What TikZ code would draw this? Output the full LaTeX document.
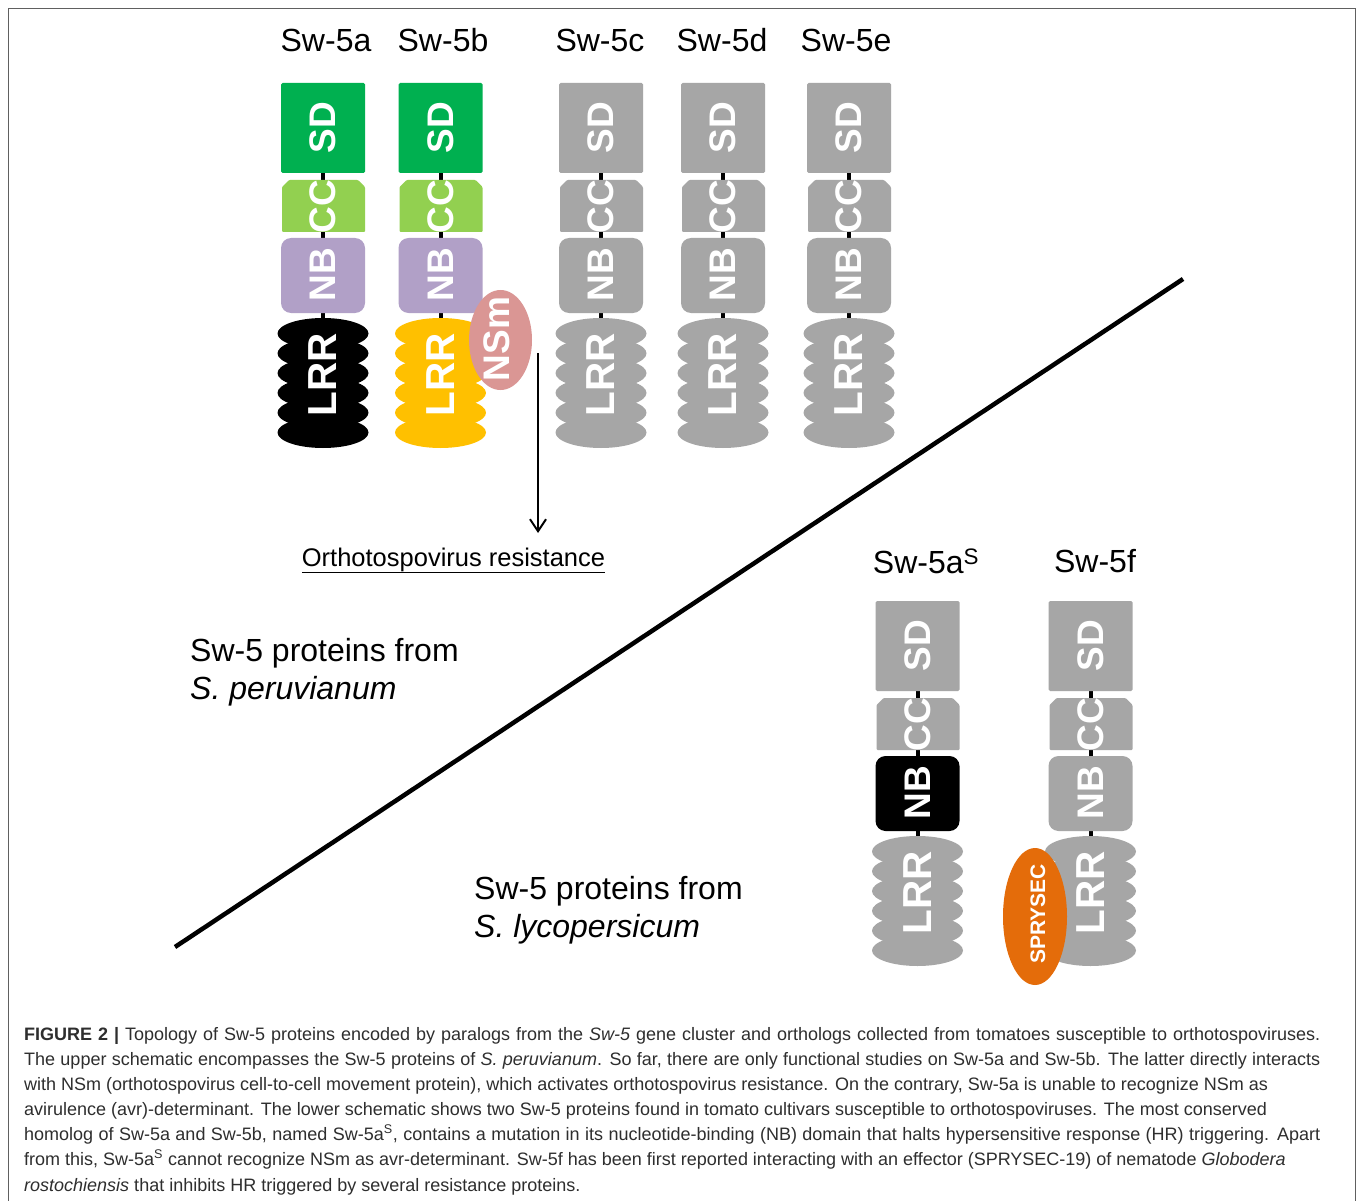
\documentclass[tikz,border=0pt]{standalone}
\usepackage{fontspec}
\setmainfont{Liberation Sans}
\usetikzlibrary{arrows.meta}
\definecolor{sdgreen}{HTML}{00B050}
\definecolor{ccgreen}{HTML}{92D050}
\definecolor{nbpurple}{HTML}{B1A0C7}
\definecolor{lrryellow}{HTML}{FFC000}
\definecolor{nspink}{HTML}{DA9694}
\definecolor{domgray}{HTML}{A6A6A6}
\definecolor{sprorange}{HTML}{E46C0A}
\definecolor{framegray}{HTML}{606060}
\newcommand\swcol[7]{%
  \coordinate (#1-top) at (#2,#3+45);
  \coordinate (#1-bot) at (#2,#3+300);
  \draw[linker] (#1-top) -- (#1-bot);
  \fill[#4, rounded corners=1.5pt] (#2-42,#3) rectangle (#2+42,#3+90);
  \fill[#5, rounded corners=1pt] (#2-41,#3+149) -- (#2-41,#3+104) -- (#2-34,#3+97) -- (#2+35,#3+97) -- (#2+42,#3+104) -- (#2+42,#3+149) -- cycle;
  \fill[#6, rounded corners=10pt] (#2-42,#3+155) rectangle (#2+42,#3+230);
  \foreach \i in {0,...,5} {\fill[#7] (#2,#3+250.5+19.8*\i) ellipse [x radius=45.5, y radius=15.5];}
  \node[domtxt] (#1-sd) at (#2,#3+44.5) {SD};
  \node[domtxt] (#1-cc) at (#2,#3+123.5) {CC};
  \node[domtxt] (#1-nb) at (#2,#3+191.5) {NB};
  \node[domtxt, font=\fontsize{40.5}{40.5}\selectfont\bfseries] (#1-lrr) at (#2,#3+292) {LRR};
}
\begin{document}
\begin{tikzpicture}[x=1pt,y=-1pt,
  linker/.style={line width=4pt, black},
  domtxt/.style={text=white, font=\fontsize{37}{37}\selectfont\bfseries, rotate=90, inner sep=0pt},
  collab/.style={font=\fontsize{32}{38}\selectfont, inner sep=0pt},
  bigtxt/.style={font=\fontsize{32}{38}\selectfont, inner sep=0pt, anchor=base west},
  captxt/.style={font=\fontsize{18}{22}\selectfont, text=black!82, inner sep=0pt, anchor=base west},
  diagline/.style={line width=4.5pt, black},
  arrline/.style={line width=2pt, -{Straight Barb[length=12pt,width=16pt]}}
]
\useasboundingbox (0,0) rectangle (1358,1201);
\fill[white] (0,0) rectangle (1358,1201);
\draw[framegray, line width=1.6pt] (8.5,1201) -- (8.5,8.5) -- (1355.5,8.5) -- (1355.5,1201);

% column labels
\node[collab] (l5a) at (326,40) {Sw-5a};
\node[collab] (l5b) at (443,40) {Sw-5b};
\node[collab] (l5c) at (600,40) {Sw-5c};
\node[collab] (l5d) at (722,40) {Sw-5d};
\node[collab] (l5e) at (846,40) {Sw-5e};
\node[collab] (l5as) at (926,561) {Sw-5a\textsuperscript{S}};
\node[collab] (l5f) at (1095,561) {Sw-5f};

% upper proteins
\swcol{a}{323}{83}{sdgreen}{ccgreen}{nbpurple}{black}
\swcol{b}{440.5}{83}{sdgreen}{ccgreen}{nbpurple}{lrryellow}
\swcol{c}{601}{83}{domgray}{domgray}{domgray}{domgray}
\swcol{d}{723}{83}{domgray}{domgray}{domgray}{domgray}
\swcol{e}{849}{83}{domgray}{domgray}{domgray}{domgray}

% NSm
\fill[nspink] (500.5,340) ellipse [x radius=31.5, y radius=50];
\node[domtxt] (nsm) at (497,339) {NSm};

% lower proteins
\swcol{as}{917.5}{601}{domgray}{domgray}{black}{domgray}
\swcol{f}{1090.5}{601}{domgray}{domgray}{domgray}{domgray}

% SPRYSEC
\fill[sprorange] (1035,916.5) ellipse [x radius=32, y radius=68.5];
\node[domtxt, font=\fontsize{21}{21}\selectfont\bfseries] (spry) at (1038,914) {SPRYSEC};

% resistance arrow
\node[inner sep=0pt, anchor=base, font=\fontsize{25.5}{30}\selectfont] (res) at (453.5,566) {\underline{Orthotospovirus resistance}};
\coordinate (arrS) at (538,353);
\coordinate (arrE) at (538,533);
\draw[arrline] (arrS) -- (arrE);

% diagonal separator
\coordinate (dA) at (175,947);
\coordinate (dB) at (1183,279);
\draw[diagline] (dA) -- (dB);

% group labels
\node[bigtxt] (g1a) at (190,661) {Sw-5 proteins from};
\node[bigtxt] (g1b) at (190,699) {\itshape S. peruvianum};
\node[bigtxt] (g2a) at (474,899) {Sw-5 proteins from};
\node[bigtxt] (g2b) at (474,937) {\itshape S. lycopersicum};

% caption
\node[captxt] (c1) at (24,1040) {\makebox[1296pt][s]{\textbf{FIGURE 2 |} Topology of Sw-5 proteins encoded by paralogs from the \textit{Sw-5} gene cluster and orthologs collected from tomatoes susceptible to orthotospoviruses.}};
\node[captxt] (c2) at (24,1065) {\makebox[1296pt][s]{The upper schematic encompasses the Sw-5 proteins of \textit{S. peruvianum}. So far, there are only functional studies on Sw-5a and Sw-5b. The latter directly interacts}};
\node[captxt] (c3) at (24,1090) {with NSm (orthotospovirus cell-to-cell movement protein), which activates orthotospovirus resistance. On the contrary, Sw-5a is unable to recognize NSm as};
\node[captxt] (c4) at (24,1115) {avirulence (avr)-determinant. The lower schematic shows two Sw-5 proteins found in tomato cultivars susceptible to orthotospoviruses. The most conserved};
\node[captxt] (c5) at (24,1140) {\makebox[1296pt][s]{homolog of Sw-5a and Sw-5b, named Sw-5a\textsuperscript{S}, contains a mutation in its nucleotide-binding (NB) domain that halts hypersensitive response (HR) triggering. Apart}};
\node[captxt] (c6) at (24,1165) {from this, Sw-5a\textsuperscript{S} cannot recognize NSm as avr-determinant. Sw-5f has been first reported interacting with an effector (SPRYSEC-19) of nematode \textit{Globodera}};
\node[captxt] (c7) at (24,1191) {\textit{rostochiensis} that inhibits HR triggered by several resistance proteins.};
\end{tikzpicture}
\end{document}
